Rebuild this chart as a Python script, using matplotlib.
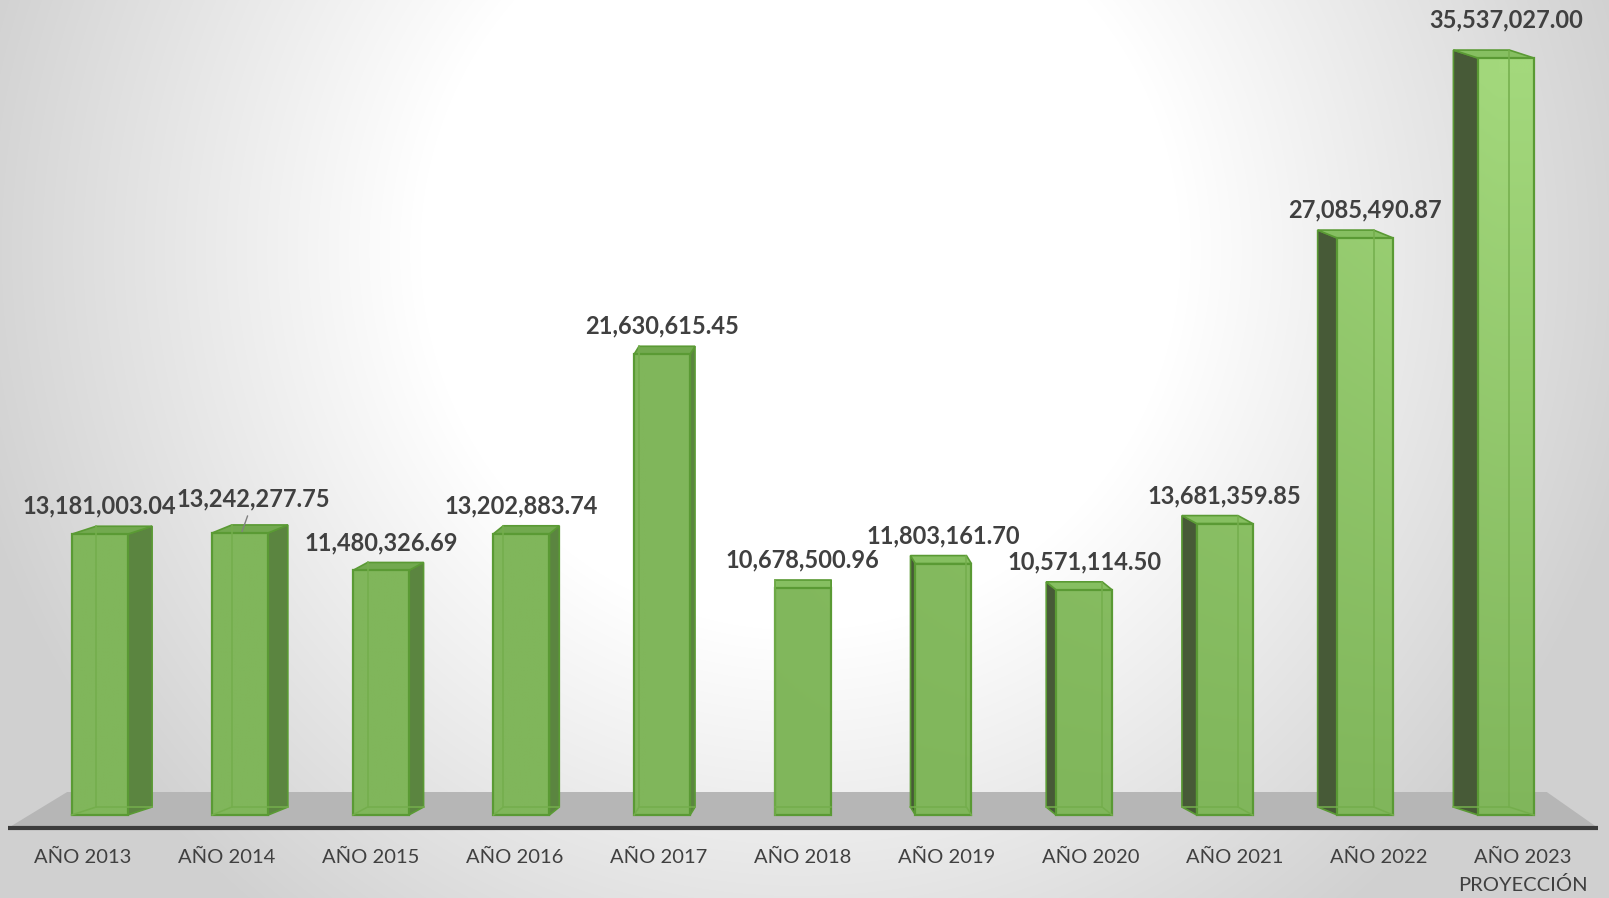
import numpy as np
import matplotlib.pyplot as plt
from matplotlib.patches import Polygon
from matplotlib.colors import to_rgb

categories = ["AÑO 2013", "AÑO 2014", "AÑO 2015", "AÑO 2016", "AÑO 2017", "AÑO 2018",
              "AÑO 2019", "AÑO 2020", "AÑO 2021", "AÑO 2022", "AÑO 2023\nPROYECCIÓN"]
values = [13181003.04, 13242277.75, 11480326.69, 13202883.74, 21630615.45, 10678500.96,
          11803161.70, 10571114.50, 13681359.85, 27085490.87, 35537027.00]

W, H = 1609, 898
PX_X = 140.65          # pixels per category step
PX_Y = 21.3 / 1e6      # pixels per unit of value
X0_PX, BASE_PX = 99.5, 83
ux, uy = 1 / PX_X, 1 / PX_Y   # data units per pixel

plt.rcParams['font.family'] = ['Lato', 'DejaVu Sans']

fig = plt.figure(figsize=(W / 100, H / 100), dpi=100)

# radial background
bg = fig.add_axes([0, 0, 1, 1]); bg.axis("off")
yy, xx = np.mgrid[0:H, 0:W]
r = np.hypot(xx - 800, yy - 250)
t = np.clip((r - 380) / 480, 0, 1)
g = 1 - t * (1 - 0xd0 / 255)
bg.imshow(np.dstack([g, g, g]), aspect="auto", extent=[0, W, H, 0])
bg.set_xlim(0, W); bg.set_ylim(H, 0)

ax = fig.add_axes([0, 0, 1, 1]); ax.axis("off"); ax.patch.set_alpha(0)
xmin, xmax = -X0_PX * ux, (W - X0_PX) * ux
ymin, ymax = -BASE_PX * uy, (H - BASE_PX) * uy
ax.set_xlim(xmin, xmax); ax.set_ylim(ymin, ymax)

n = len(values)
x = np.arange(n)
mid = (n - 1) / 2
bw = 56 * ux
ddy = 8 * uy

# floor
front_y, back_y = -13 * uy, 23 * uy
floor = Polygon([(-0.65, front_y), (n - 1 + 0.655, front_y), (n - 1 + 0.29, back_y), (-0.23, back_y)],
                closed=True, facecolor="#b6b6b6", edgecolor="none", zorder=1)
ax.add_patch(floor)
ax.plot([-0.65, n - 1 + 0.655], [front_y, front_y], color="#3c3c3c", lw=3, zorder=2,
        solid_capstyle="butt")

# gradient used for the front faces (lighter toward the upper right)
gx = np.linspace(0, W, 300)[None, :]
gy = np.linspace(H, 0, 300)[:, None]          # pixel height from bottom, top row first
tt = np.clip((gx - 650) / 850, 0, 1) * np.clip((gy - BASE_PX) / 740, 0, 1)
c0, c1 = np.array(to_rgb("#80b65b")), np.array(to_rgb("#a3d87c"))
grad = c0 + (c1 - c0) * tt[..., None]

edge = "#5a9a34"
inner = "#74ae4c"
for i, v in zip(x, values):
    dx = -0.035 * (i - mid)
    x0, x1 = i - bw / 2, i + bw / 2
    if dx >= 0:
        side = [(x1, 0), (x1 + dx, ddy), (x1 + dx, v + ddy), (x1, v)]
        sc = "#5b8540"
        hidden = [[(x0, 0), (x0 + dx, ddy)], [(x0 + dx, ddy), (x1 + dx, ddy)],
                  [(x0 + dx, ddy), (x0 + dx, v + ddy)]]
    else:
        side = [(x0, 0), (x0 + dx, ddy), (x0 + dx, v + ddy), (x0, v)]
        sc = "#475a37"
        hidden = [[(x1, 0), (x1 + dx, ddy)], [(x0 + dx, ddy), (x1 + dx, ddy)],
                  [(x1 + dx, ddy), (x1 + dx, v + ddy)]]
    top = [(x0, v), (x1, v), (x1 + dx, v + ddy), (x0 + dx, v + ddy)]
    tc = "#72a94f" if i < mid else "#86bf61"
    ax.add_patch(Polygon(side, closed=True, facecolor=sc, edgecolor=edge, lw=1.2, zorder=3))
    ax.add_patch(Polygon(top, closed=True, facecolor=tc, edgecolor=edge, lw=1.2, zorder=3))
    front = Polygon([(x0, 0), (x1, 0), (x1, v), (x0, v)], closed=True,
                    facecolor="none", edgecolor=edge, lw=1.6, zorder=5)
    ax.add_patch(front)
    im = ax.imshow(grad, extent=[xmin, xmax, ymin, ymax], aspect="auto", zorder=4)
    im.set_clip_path(front)
    for (a, b), (c, d) in hidden:
        ax.plot([a, c], [b, d], color=inner, lw=1.1, zorder=6)
ax.set_xlim(xmin, xmax); ax.set_ylim(ymin, ymax)

# value labels
for i, v in zip(x, values):
    off = (0, 28)
    kw = {}
    if i == 1:
        off = (12, 34)
        kw = dict(arrowprops=dict(arrowstyle="-", color="#808080", lw=1, shrinkA=2, shrinkB=1))
    if i == n - 1:
        off = (0, 38)
    ax.annotate(f"{v:,.2f}", xy=(i + (0.01 if i == 1 else 0), v), xytext=off,
                textcoords="offset pixels", ha="center", va="center",
                fontsize=17, fontweight="bold", color="#404040", zorder=10, **kw)

# category labels spread along the floor front edge
for i, lab in zip(x, categories):
    lx = mid + (i - mid) * 1.024
    multi = "\n" in lab
    ax.annotate(lab, xy=(lx, 0), xytext=(0, -34 if multi else -42), textcoords="offset pixels",
                ha="center", va="top" if multi else "center",
                fontsize=14.5, color="#404040", linespacing=1.65, zorder=10)

fig.savefig("out.png", dpi=100)
